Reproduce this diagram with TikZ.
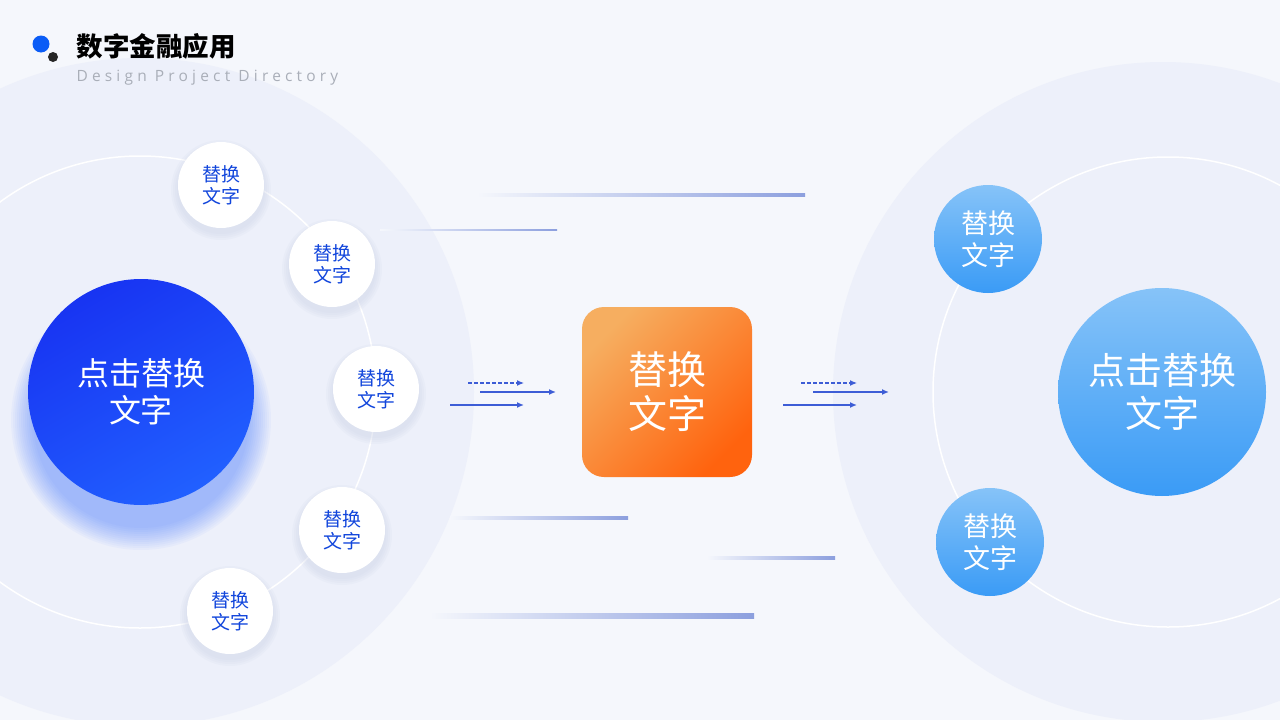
\documentclass[tikz,border=0pt]{standalone}
\usepackage{fontspec}
\newfontfamily\cjk{Noto Sans CJK SC}
\newfontfamily\subfont[LetterSpace=27]{Open Sans}
\usetikzlibrary{arrows.meta}
\definecolor{bgcol}{HTML}{F5F7FC}
\definecolor{diskcol}{HTML}{EDF0FA}
\definecolor{ringcol}{HTML}{FFFFFF}
\definecolor{deepA}{HTML}{1834F2}
\definecolor{deepB}{HTML}{2160FF}
\definecolor{orangeA}{HTML}{F6AE60}
\definecolor{orangeB}{HTML}{FF630E}
\definecolor{skyA}{HTML}{86C3F8}
\definecolor{skyB}{HTML}{3A9BF6}
\definecolor{textblue}{HTML}{1246DC}
\definecolor{arrowblue}{HTML}{3D5DD6}
\definecolor{lineblue}{HTML}{8C9FDE}
\definecolor{greytext}{HTML}{A9AEB8}
\definecolor{dotblue}{HTML}{0B5CF6}
\definecolor{shadowcol}{HTML}{C9D0E6}
\begin{document}
\begin{tikzpicture}
[x=1pt,y=-1pt,
  satellite/.style={shape=circle,minimum size=86pt,inner sep=0pt,fill=white,
    font=\cjk\fontsize{19}{22}\selectfont,text=textblue,align=center},%
  skysatellite/.style={shape=circle,minimum size=108pt,inner sep=0pt,
    top color=skyA,bottom color=skyB,
    font=\cjk\fontsize{27}{32}\selectfont,text=white,align=center},%
  hubdecorate/.style={shape=circle,inner sep=0pt,align=center,text=white},%
  arrowdecorate/.style={-{Latex[length=7pt,width=6pt]},arrowblue,line width=1.6pt},%
  linedecorate/.style={left color=bgcol,right color=lineblue}]
\useasboundingbox (0,0) rectangle (1280,720);
%% background and discs
\fill[bgcol] (0,0) rectangle (1280,720);
\fill[diskcol] (140,392) circle (334);
\fill[diskcol] (1163,392) circle (330);
\draw[ringcol,line width=1.5pt] (140,392) circle (236);
\draw[ringcol,line width=1.5pt] (1168,392) circle (235);
%% title
\fill[dotblue] (41,44) circle (8.5);
\fill[black!85] (53,57) circle (5);
\node (title) [anchor=west,font=\cjk\bfseries\fontsize{26.5}{28}\selectfont]
  at (73,46) {数字金融应用};
\node (subtitle) [anchor=west,text=greytext,font=\subfont\fontsize{15.5}{18}\selectfont]
  at (73,78) {Design Project Directory};
%% faint lines
\foreach \x/\y/\len/\thick in {477/195/328/3, 380/230/177/1, 450/518/178/3,
  707/558/128/3, 430/616/324/5}
{
  \shade[linedecorate] (\x,\y-\thick/2) rectangle (\x+\len,\y+\thick/2);
}
%% left hub
\foreach \r in {108,110,...,130}
  \fill[deepB,opacity=0.035] (141,420) circle (\r);
\node (lefthub) [hubdecorate,minimum size=226pt,top color=deepA,bottom color=deepB,
  shading angle=30,font=\cjk\fontsize{32}{37}\selectfont]
  at (141,392) {点击替换\\文字};
\foreach \nodename/\x/\y in {s1/221/185, s2/332/264, s3/376/389, s4/342/530, s5/230/611}
{
  \foreach \r in {44,46,48,50}
    \fill[shadowcol,opacity=0.12] (\x,\y+5) circle (\r);
  \node (\nodename) at (\x,\y) [satellite] {替换\\文字};
}
%% middle box
\node (box) [shape=rectangle,rounded corners=22pt,minimum size=170pt,
  top color=orangeA,bottom color=orangeB,shading angle=45,text=white,align=center,
  font=\cjk\fontsize{39}{44}\selectfont] at (667,392) {替换\\文字};
%% right hub
\node (righthub) [hubdecorate,minimum size=208pt,top color=skyA,bottom color=skyB,
  font=\cjk\fontsize{37}{43}\selectfont] at (1162,392) {点击替换\\文字};
\node (r1) at (988,239) [skysatellite] {替换\\文字};
\node (r2) at (990,542) [skysatellite] {替换\\文字};
%% arrows
\foreach \side/\shift in {a/0, b/333}
{
  \coordinate (\side1s) at (468+\shift,383);
  \coordinate (\side1e) at (524+\shift,383);
  \coordinate (\side2s) at (480+\shift,392);
  \coordinate (\side2e) at (556+\shift,392);
  \coordinate (\side3s) at (450+\shift,405);
  \coordinate (\side3e) at (524+\shift,405);
  \draw[arrowdecorate,line width=1.2pt,dash pattern=on 4pt off 2pt] (\side1s) -- (\side1e);
  \draw[arrowdecorate] (\side2s) -- (\side2e);
  \draw[arrowdecorate] (\side3s) -- (\side3e);
}
\end{tikzpicture}
\end{document}
